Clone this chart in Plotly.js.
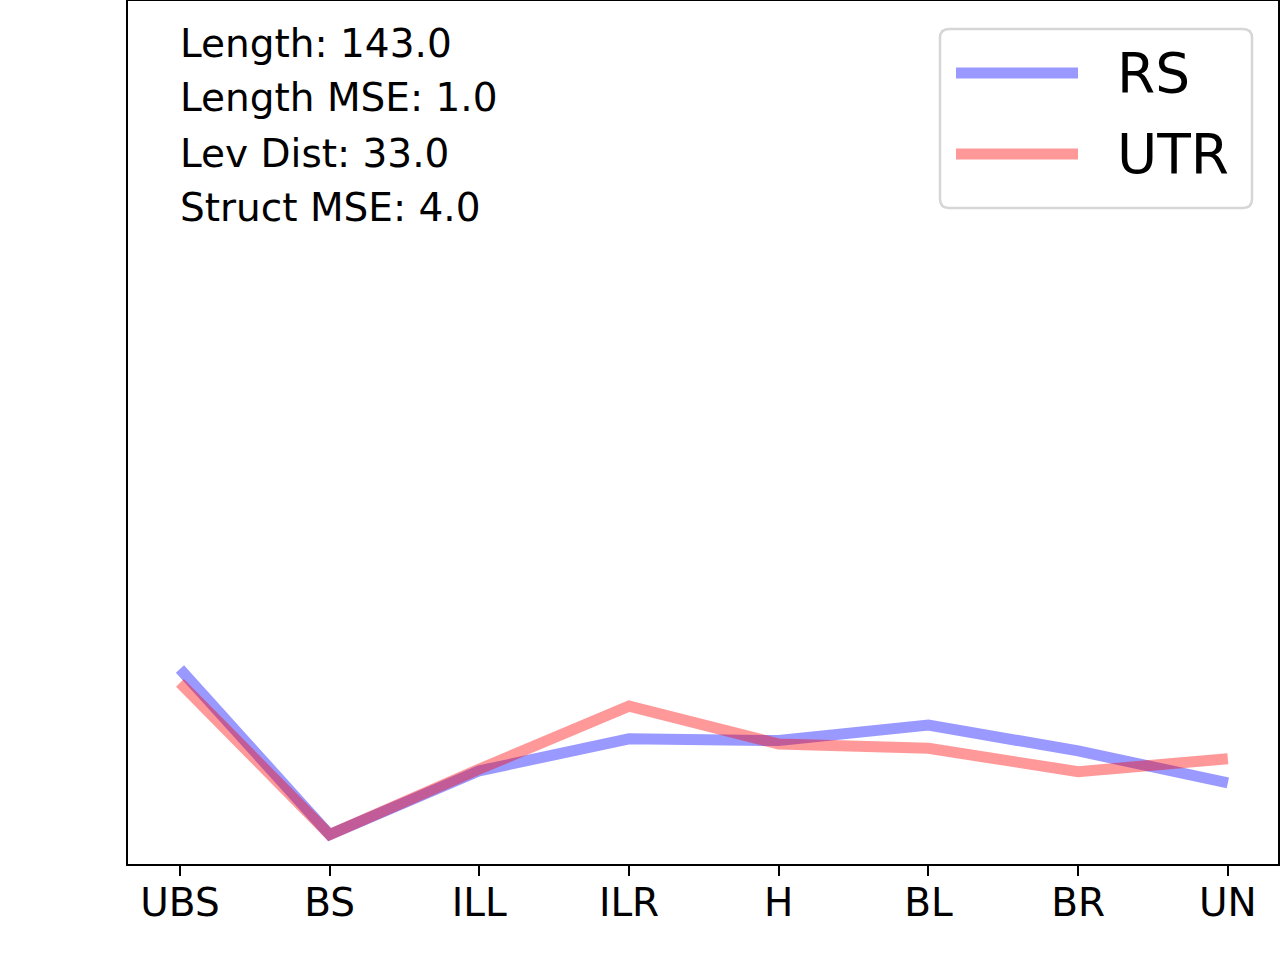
<!DOCTYPE html>
<html>
<head>
<meta charset="utf-8">
<script src="https://cdn.plot.ly/plotly-3.0.1.min.js"></script>
<style>
  body { margin: 0; background: #fff; }
  #chart { width: 1280px; height: 960px; }
</style>
</head>
<body>
<div id="chart"></div>
<script>
// categories along the x axis
var regions = ["UBS", "BS", "ILL", "ILR", "H", "BL", "BR", "UN"];

// values (y axis has no ticks, arbitrary units)
var rsVals  = [22.6, 3.4, 10.8, 14.5, 14.3, 16.1, 13.1, 9.4];
var utrVals = [21.0, 3.4, 11.0, 18.3, 13.9, 13.4, 10.7, 12.2];

// stats box text, top left
var stats = ["Length: 143.0", "Length MSE: 1.0", "Lev Dist: 33.0", "Struct MSE: 4.0"];

// legend entries
var seriesNames  = ["RS", "UTR"];
var seriesColors = ["rgba(0,0,255,0.4)", "rgba(255,0,0,0.4)"];

var FONT = "DejaVu Sans, sans-serif";
var W = 1280, H = 960;
var M = {l: 128, r: 2, t: 1, b: 96};
var plotW = W - M.l - M.r, plotH = H - M.t - M.b;

// pixel -> paper helpers for the decorations
function px(x){ return (x - M.l) / plotW; }
function py(y){ return 1 - (y - M.t) / plotH; }

var data = [
    {x: regions, y: rsVals,  name: seriesNames[0]},
    {x: regions, y: utrVals, name: seriesNames[1]}
].map(function(t, i){
    t.type = "scatter";
    t.mode = "lines";
    t.line = {color: seriesColors[i], width: 11};
    t.showlegend = false;
    return t;
});

var annos = stats.map(function(s, i){
    return {
        text: s,
        xref: "paper", yref: "paper",
        x: px(178), y: py(43 + i * 55),
        xanchor: "left", yanchor: "middle",
        showarrow: false,
        font: {family: FONT, size: 39, color: "#000"}
    };
});

// legend box drawn by hand (matplotlib style, rounded corners)
function roundRect(x0, y0, x1, y1, r){
    var rx = r / plotW, ry = r / plotH;
    var L = px(x0), R = px(x1), T = py(y0), B = py(y1);
    return "M" + (L + rx) + "," + T +
        " L" + (R - rx) + "," + T +
        " Q" + R + "," + T + " " + R + "," + (T - ry) +
        " L" + R + "," + (B + ry) +
        " Q" + R + "," + B + " " + (R - rx) + "," + B +
        " L" + (L + rx) + "," + B +
        " Q" + L + "," + B + " " + L + "," + (B + ry) +
        " L" + L + "," + (T - ry) +
        " Q" + L + "," + T + " " + (L + rx) + "," + T + " Z";
}

var shapes = [{
    type: "path", xref: "paper", yref: "paper",
    path: roundRect(940, 29, 1252, 208, 9),
    fillcolor: "rgba(255,255,255,0.8)",
    line: {color: "#d6d6d6", width: 2.5}
}];

seriesNames.forEach(function(n, i){
    var rowY = 73 + i * 81;
    shapes.push({
        type: "line", xref: "paper", yref: "paper",
        x0: px(956), x1: px(1078), y0: py(rowY), y1: py(rowY),
        line: {color: seriesColors[i], width: 11}
    });
    annos.push({
        text: n,
        xref: "paper", yref: "paper",
        x: px(1115), y: py(rowY),
        xanchor: "left", yanchor: "middle",
        showarrow: false,
        font: {family: FONT, size: 55, color: "#000"}
    });
});

var layout = {
    width: W,
    height: H,
    margin: M,
    paper_bgcolor: "#fff",
    plot_bgcolor: "#fff",
    font: {family: FONT, size: 39, color: "#000"},
    showlegend: false,
    xaxis: {
        type: "category",
        range: [-0.347, 7.335],
        showgrid: false,
        zeroline: false,
        showline: true, mirror: true,
        linecolor: "#000", linewidth: 2,
        ticks: "outside", ticklen: 10, tickwidth: 2, tickcolor: "#000",
        ticklabelstandoff: -7,
        tickfont: {family: FONT, size: 39, color: "#000"}
    },
    yaxis: {
        range: [0, 100],
        showgrid: false,
        zeroline: false,
        showline: true, mirror: true,
        linecolor: "#000", linewidth: 2,
        showticklabels: false,
        ticks: ""
    },
    shapes: shapes,
    annotations: annos
};

Plotly.newPlot("chart", data, layout, {displayModeBar: false, staticPlot: true});
</script>
</body>
</html>
